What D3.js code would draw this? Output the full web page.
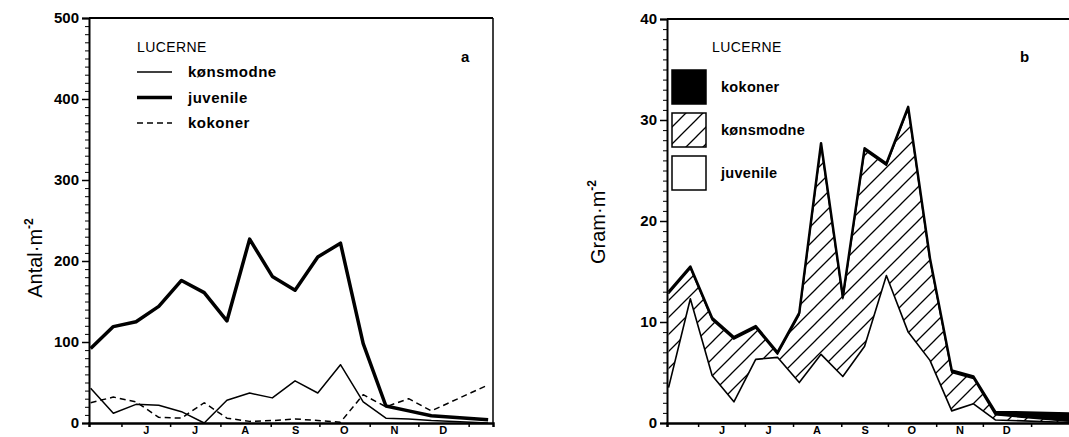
<!DOCTYPE html>
<html>
<head>
<meta charset="utf-8">
<script src="https://cdn.jsdelivr.net/npm/d3@7"></script>
<style>
  body { margin: 0; background: #fff; }
  svg { display: block; font-family: "Liberation Sans", Arial, sans-serif; }
  .axis path, .axis line { stroke: #000; }
  .axis text { font-weight: bold; fill: #000; }
</style>
</head>
<body>
<div id="chart"></div>
<script>
// sample dates (about every 14 days, may -> january)
var sampleDates = ["1979-05-13", "1979-05-27", "1979-06-10", "1979-06-24", "1979-07-08",
  "1979-07-22", "1979-08-05", "1979-08-19", "1979-09-02", "1979-09-16", "1979-09-30",
  "1979-10-14", "1979-10-28", "1979-11-11", "1979-11-25", "1979-12-09", "1980-01-13"];
// panel b runs a bit longer (last sample sits on the cut edge)
var bSampleDates = sampleDates.slice(0, 16).concat(["1980-01-26"]);

// month boundaries and the letters under the axis
var monthStarts = ["1979-06-01", "1979-07-01", "1979-08-01", "1979-09-01",
  "1979-10-01", "1979-11-01", "1979-12-01", "1980-01-01"];
var monthMids = ["1979-06-16", "1979-07-16", "1979-08-16", "1979-09-16",
  "1979-10-16", "1979-11-16", "1979-12-16"];
var monthLabels = ["J", "J", "A", "S", "O", "N", "D"];

// panel a : Antal per m2
var aKonsmodne = [43, 12, 23, 22, 14, 0, 28, 37, 31, 52, 37, 72, 26, 6, 5, 3, 0];
var aJuvenile  = [92, 119, 125, 144, 176, 161, 126, 227, 181, 164, 205, 222, 98, 21, 15, 9, 4];
var aKokoner   = [25, 32, 26, 7, 6, 25, 6, 2, 3, 5, 3, 1, 35, 20, 30, 15, 47];
var aTicks = [0, 100, 200, 300, 400, 500];

// panel b : Gram per m2 (stacked juvenile / konsmodne / kokoner)
var bJuvenile  = [3.5, 12.3, 4.7, 2.1, 6.3, 6.5, 4.0, 6.8, 4.6, 7.6, 14.6, 9.0, 6.2, 1.2, 1.9, 0.3, 0.05];
var bKonsmodne = [9.3, 3.0, 5.5, 6.2, 3.1, 0.3, 6.7, 20.7, 7.7, 19.4, 10.9, 22.1, 9.9, 3.8, 2.5, 0.5, 0.1];
var bKokoner   = [0.2, 0.2, 0.2, 0.2, 0.2, 0.2, 0.2, 0.2, 0.2, 0.2, 0.2, 0.2, 0.2, 0.2, 0.2, 0.3, 0.8];
var bTicks = [0, 10, 20, 30, 40];

var parse = d3.timeParse("%Y-%m-%d");
var dates = sampleDates.map(parse);
var bDates = bSampleDates.map(parse);

var width = 1069, height = 437;

var svg = d3.select("#chart").append("svg")
  .attr("width", width)
  .attr("height", height);

// hatch for konsmodne
var defs = svg.append("defs");
defs.append("pattern")
  .attr("id", "hatch")
  .attr("patternUnits", "userSpaceOnUse")
  .attr("width", 17).attr("height", 17)
  .append("path")
  .attr("d", "M0,17 L17,0 M-4,4 L4,-4 M13,21 L21,13")
  .attr("stroke", "#000")
  .attr("stroke-width", 1.3);

// draws frame + axes, returns the scales
function drawFrame(box, yMax, yTicks, minorStep, yTitle, letter) {
  var x = d3.scaleTime()
    .domain([parse("1979-05-12"), parse(box.endDate)])
    .range([box.left, box.right]);
  var y = d3.scaleLinear().domain([0, yMax]).range([box.bottom, box.top]);

  // minor ticks
  svg.append("g")
    .attr("class", "axis")
    .attr("transform", "translate(" + box.left + ",0)")
    .call(d3.axisLeft(y).tickValues(d3.range(0, yMax + minorStep / 2, minorStep)).tickSize(4).tickFormat(""))
    .select(".domain").remove();

  svg.append("g")
    .attr("class", "axis")
    .attr("transform", "translate(" + box.left + ",0)")
    .call(d3.axisLeft(y).tickValues(yTicks).tickSize(7).tickPadding(3))
    .call(function(g) {
      g.select(".domain").attr("stroke-width", 2);
      g.selectAll(".tick line").attr("stroke-width", 1.5);
      g.selectAll("text").style("font-size", "15px");
    });

  svg.append("g")
    .attr("class", "axis")
    .attr("transform", "translate(0," + box.bottom + ")")
    .call(d3.axisBottom(x).tickValues(monthStarts.map(parse)).tickSize(4).tickFormat(""))
    .call(function(g) {
      g.select(".domain").attr("stroke-width", 2.5);
      g.selectAll(".tick line").attr("stroke-width", 1.5);
    });

  svg.append("g")
    .attr("class", "axis")
    .attr("transform", "translate(0," + box.bottom + ")")
    .call(d3.axisBottom(x).tickValues(monthMids.map(parse)).tickSize(0).tickPadding(3)
      .tickFormat(function(d, i) { return monthLabels[i]; }))
    .call(function(g) {
      g.select(".domain").remove();
      g.selectAll("text").style("font-size", "11px");
    });

  // top and right border
  svg.append("line")
    .attr("x1", box.left).attr("x2", box.frameRight)
    .attr("y1", box.top).attr("y2", box.top)
    .attr("stroke", "#000").attr("stroke-width", 2);
  if (box.rightLine) {
    svg.append("line")
      .attr("x1", box.right).attr("x2", box.right)
      .attr("y1", box.top).attr("y2", box.bottom)
      .attr("stroke", "#000").attr("stroke-width", 1.5);
  }

  var t = svg.append("text")
    .attr("transform", "translate(" + box.titleX + "," + box.titleY + ") rotate(-90)")
    .attr("text-anchor", "middle")
    .style("font-size", "20px");
  t.append("tspan").text(yTitle);
  t.append("tspan").attr("dy", -9).style("font-size", "12px").style("font-weight", "bold").text("-2");

  svg.append("text")
    .attr("x", box.letterX).attr("y", 62)
    .style("font-size", "15px").style("font-weight", "bold")
    .text(letter);

  svg.append("text")
    .attr("x", box.legendX).attr("y", 52)
    .style("font-size", "14px").style("letter-spacing", "0.4px")
    .text("LUCERNE");

  return {x: x, y: y};
}

/* ---- panel a ---- */
var boxA = {left: 89, right: 493, top: 18, bottom: 423, frameRight: 493, rightLine: true,
  endDate: "1980-01-16", titleX: 42, titleY: 258, letterX: 461, legendX: 137};
var sa = drawFrame(boxA, 500, aTicks, 10, "Antal·m", "a");

var lineA = d3.line()
  .x(function(d, i) { return sa.x(dates[i]); })
  .y(function(d) { return sa.y(d); });

var seriesA = [
  {name: "kønsmodne", values: aKonsmodne, w: 1.5, dash: null},
  {name: "juvenile", values: aJuvenile, w: 3.5, dash: null},
  {name: "kokoner", values: aKokoner, w: 1.5, dash: "6,4"}
];

seriesA.forEach(function(s, k) {
  svg.append("path")
    .datum(s.values)
    .attr("d", lineA)
    .attr("fill", "none")
    .attr("stroke", "#000")
    .attr("stroke-width", s.w)
    .attr("stroke-linejoin", "round")
    .attr("stroke-dasharray", s.dash);

  // legend
  var ly = 72 + k * 25.5;
  svg.append("line")
    .attr("x1", 137).attr("x2", 172)
    .attr("y1", ly).attr("y2", ly)
    .attr("stroke", "#000")
    .attr("stroke-width", s.w)
    .attr("stroke-dasharray", s.dash);
  svg.append("text")
    .attr("x", 188).attr("y", ly + 5)
    .style("font-size", "15px").style("font-weight", "bold").style("letter-spacing", "0.5px")
    .text(s.name);
});

/* ---- panel b ---- */
// same px per day as the month ticks, frame runs off the right edge
var boxB = {left: 667, right: 1070, top: 19, bottom: 423, frameRight: 1069, rightLine: false,
  endDate: "1980-01-26", titleX: 605, titleY: 222, letterX: 1020, legendX: 712};

// stacked, juvenile at bottom
var stackData = bDates.map(function(d, i) {
  return {juvenile: bJuvenile[i], konsmodne: bKonsmodne[i], kokoner: bKokoner[i]};
});
var stacked = d3.stack().keys(["juvenile", "konsmodne", "kokoner"])(stackData);

var bG = svg.append("g");
var sb = drawFrame(boxB, 40, bTicks, 1, "Gram·m", "b");

var areaB = d3.area()
  .x(function(d, i) { return sb.x(bDates[i]); })
  .y0(function(d) { return sb.y(d[0]); })
  .y1(function(d) { return sb.y(d[1]); });

var fills = ["#fff", "url(#hatch)", "#000"];
bG.selectAll("path.layer")
  .data(stacked)
  .enter().append("path")
  .attr("class", "layer")
  .attr("d", areaB)
  .attr("fill", function(d, i) { return fills[i]; });

var topLine = d3.line()
  .x(function(d, i) { return sb.x(bDates[i]); })
  .y(function(d) { return sb.y(d[1]); });

bG.append("path").datum(stacked[0]).attr("d", topLine)
  .attr("fill", "none").attr("stroke", "#000").attr("stroke-width", 1.6).attr("stroke-linejoin", "round");
bG.append("path").datum(stacked[1]).attr("d", topLine)
  .attr("fill", "none").attr("stroke", "#000").attr("stroke-width", 1.4).attr("stroke-linejoin", "round");
bG.append("path").datum(stacked[2]).attr("d", topLine)
  .attr("fill", "none").attr("stroke", "#000").attr("stroke-width", 2.5).attr("stroke-linejoin", "round");

// legend boxes b
var legB = [{name: "kokoner", fill: "#000"}, {name: "kønsmodne", fill: "url(#hatch)"}, {name: "juvenile", fill: "#fff"}];
legB.forEach(function(l, k) {
  var ly = 70 + k * 43;
  svg.append("rect")
    .attr("x", 672).attr("y", ly)
    .attr("width", 34).attr("height", 34)
    .attr("fill", l.fill)
    .attr("stroke", "#000").attr("stroke-width", 1.5);
  svg.append("text")
    .attr("x", 721).attr("y", ly + 22)
    .style("font-size", "14.5px").style("font-weight", "bold").style("letter-spacing", "0.3px")
    .text(l.name);
});
</script>
</body>
</html>
